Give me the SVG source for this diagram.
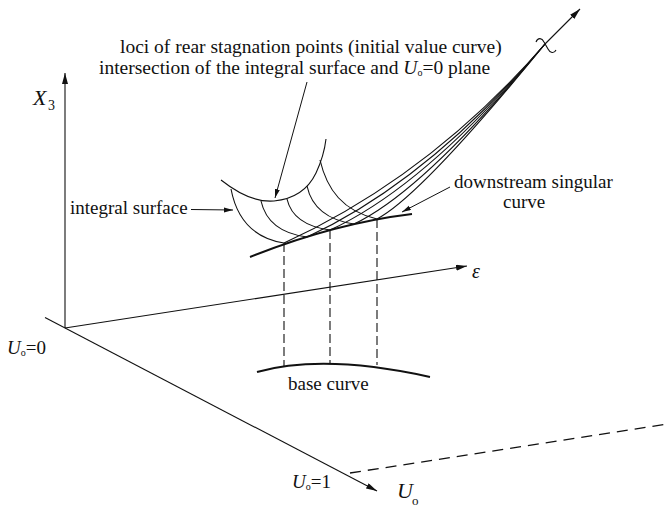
<svg xmlns="http://www.w3.org/2000/svg" width="668" height="510" viewBox="0 0 668 510" font-family="'Liberation Serif', 'Times New Roman', serif">
<style>
  .ax { fill: none; stroke: #111; stroke-width: 1.1; }
  .cv { fill: none; stroke: #111; stroke-width: 1.1; }
  .thick { fill: none; stroke: #111; stroke-width: 2; }
  .dash { fill: none; stroke: #111; stroke-width: 1.1; stroke-dasharray: 9 4; }
  .dash2 { fill: none; stroke: #111; stroke-width: 1.3; stroke-dasharray: 11 7; }
  .ldr { fill: none; stroke: #111; stroke-width: 1; }
  text { font-family: "Liberation Serif", "Times New Roman", serif; fill: #111; }
  .t { font-size: 19px; }
  .t2 { font-size: 19.5px; }
  .it { font-style: italic; }
</style>
<defs>
  <marker id="ah" markerUnits="userSpaceOnUse" markerWidth="12" markerHeight="7" refX="11" refY="3" orient="auto">
    <path d="M0,0 L11,3 L0,6 z" fill="#111"/>
  </marker>
  <marker id="ahs" markerUnits="userSpaceOnUse" markerWidth="10" markerHeight="6" refX="9" refY="2.5" orient="auto">
    <path d="M0,0 L9,2.5 L0,5 z" fill="#111"/>
  </marker>
</defs>

<g id="axes">
  <line id="x3-axis" class="ax" x1="65" y1="328" x2="65" y2="73" marker-end="url(#ah)"/>
  <line id="eps-axis" class="ax" x1="65" y1="328" x2="467" y2="266" marker-end="url(#ah)"/>
  <line id="u0-axis" class="ax" x1="45" y1="317.5" x2="377" y2="491" marker-end="url(#ah)"/>
  <line id="u0-1-line" class="dash2" x1="350" y1="473" x2="668" y2="424"/>
</g>

<g id="surface">
  <!-- initial value curve (top) -->
  <path class="cv" stroke-width="1.4" d="M221,180 Q250,203 274,201 Q304,198 316,173 Q324,156 326,139"/>
  <!-- rulings descending to singular curve -->
  <path class="cv" d="M231,189 Q240,236 284,243"/>
  <path class="cv" d="M261,201 Q268,232 307,237"/>
  <path class="cv" d="M287,199 Q293,225 330,230"/>
  <path class="cv" d="M307,186 Q314,218 354,224"/>
  <path class="cv" d="M320,160 C327,190 343,211 377,219"/>
  <!-- rising characteristics converging -->
  <path class="cv" d="M284,243 Q430,176 545,44"/>
  <path class="cv" d="M307,237 Q428,181 545,44"/>
  <path class="cv" d="M330,230 Q426,186 545,44"/>
  <path class="cv" d="M354,224 Q424,191 545,44"/>
  <path class="cv" d="M377,219 Q421,196 545,44"/>
  <!-- downstream singular curve -->
  <path id="singular" class="thick" d="M250,257 Q334,223.4 412,214"/>
  <!-- continuation arrow and break mark -->
  <line class="ax" x1="545" y1="44" x2="580" y2="9" marker-end="url(#ah)"/>
  <path class="cv" stroke-width="1.4" d="M536,42 C538,37 542,38 544,42 L548,49 C550,53 554,54 556,50"/>
  <!-- projections -->
  <line class="dash" x1="284" y1="243" x2="284" y2="366"/>
  <line class="dash" x1="330" y1="230" x2="330" y2="364"/>
  <line class="dash" x1="377" y1="219" x2="377" y2="365"/>
  <!-- base curve -->
  <path id="base" class="thick" stroke-width="1.6" d="M257,372 Q324,353.5 430,377"/>
</g>

<g id="connectors">
  <line class="ldr" x1="307" y1="82" x2="275" y2="198" marker-end="url(#ahs)"/>
  <line class="ldr" x1="191" y1="209.5" x2="233" y2="210" marker-end="url(#ahs)"/>
  <line class="ldr" x1="450" y1="187" x2="402" y2="212" marker-end="url(#ahs)"/>
</g>

<g id="label-loci">
  <text class="t2" x="120" y="53">loci of rear stagnation points (initial value curve)</text>
</g>
<g id="label-intersection">
  <text class="t2" x="99" y="74">intersection of the integral surface and <tspan class="it">U</tspan><tspan font-size="10" dy="2">o</tspan><tspan dy="-2">=0 plane</tspan></text>
</g>
<g id="label-x3">
  <text class="it" font-size="22" x="33" y="105">X</text>
  <text font-size="14" x="48" y="110">3</text>
</g>
<g id="label-integral-surface">
  <text class="t" x="70" y="214">integral surface</text>
</g>
<g id="label-downstream">
  <text class="t" x="454" y="188">downstream singular</text>
  <text class="t" x="503" y="208">curve</text>
</g>
<g id="label-eps">
  <text class="it" font-size="20" x="472" y="278">ε</text>
</g>
<g id="label-u0-0">
  <text font-size="19" x="7" y="354"><tspan class="it">U</tspan><tspan font-size="10" dy="2">o</tspan><tspan dy="-2">=0</tspan></text>
</g>
<g id="label-base">
  <text class="t" x="288" y="390">base curve</text>
</g>
<g id="label-u0-1">
  <text font-size="19" x="292" y="488"><tspan class="it">U</tspan><tspan font-size="10" dy="2">o</tspan><tspan dy="-2">=1</tspan></text>
</g>
<g id="label-u0">
  <text class="it" font-size="22" x="397" y="498">U</text>
  <text font-size="13" x="412" y="505">o</text>
</g>
</svg>
